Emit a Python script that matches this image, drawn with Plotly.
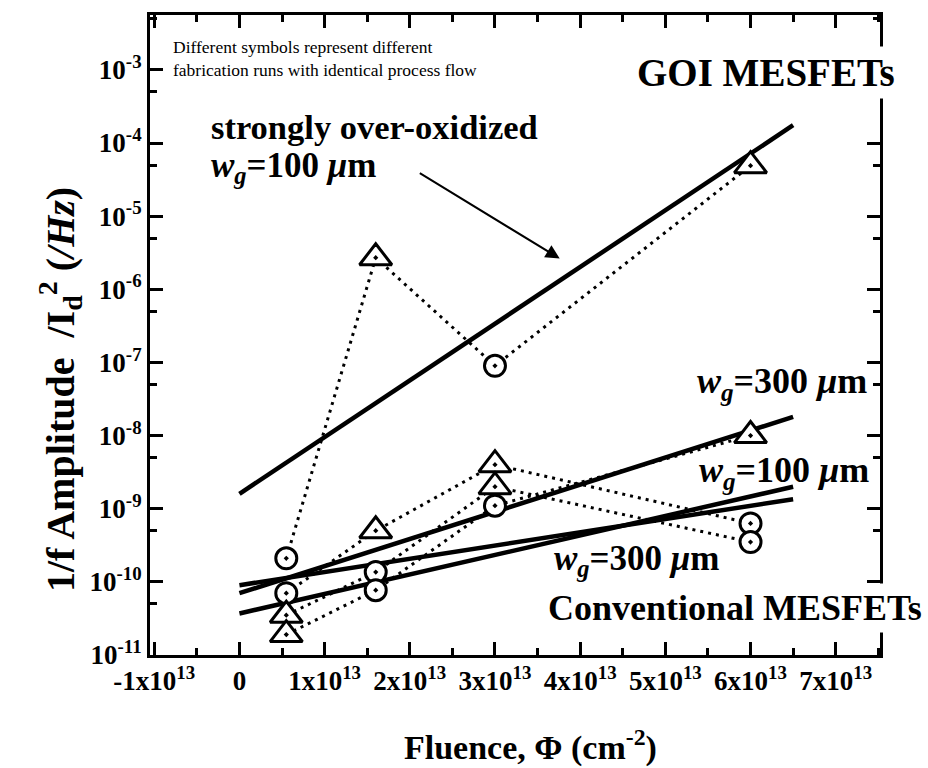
import plotly.graph_objects as go

# Fluence values of the irradiation steps (cm^-2)
fluence = [0.55e13, 1.6e13, 3.0e13, 6.0e13]

# 1/f amplitude normalised by Id^2 (/Hz) for each fabrication run
goi_run = [2.1e-10, 2.7e-6, 9.0e-8, 4.9e-5]
goi_symbols = ["circle", "triangle-up", "circle", "triangle-up"]

conv_run_a = [7.0e-11, 5.0e-10, 4.0e-9, 6.3e-10]
conv_symbols_a = ["circle", "triangle-up", "triangle-up", "circle"]

conv_run_b = [3.5e-11, 1.36e-10, 2.0e-9, 3.5e-10]
conv_symbols_b = ["triangle-up", "circle", "triangle-up", "circle"]

conv_run_c = [1.9e-11, 7.7e-11, 1.1e-9, 1.0e-8]
conv_symbols_c = ["triangle-up", "circle", "circle", "triangle-up"]

# Exponential fits (straight lines on the log axis)
fit_x = [0.0, 6.5e13]
fit_goi_100 = [1.6e-9, 1.75e-4]
fit_goi_300 = [7.0e-11, 1.8e-8]
fit_conv_100 = [3.7e-11, 2.0e-9]
fit_conv_300 = [9.0e-11, 1.35e-9]

# Axis ticks
x_ticks = [-1e13, 0, 1e13, 2e13, 3e13, 4e13, 5e13, 6e13, 7e13]
x_ticktext = ["-1x10<sup>13</sup>", "0", "1x10<sup>13</sup>", "2x10<sup>13</sup>",
              "3x10<sup>13</sup>", "4x10<sup>13</sup>", "5x10<sup>13</sup>",
              "6x10<sup>13</sup>", "7x10<sup>13</sup>"]
x_minor = [-0.5e13, 0.5e13, 1.5e13, 2.5e13, 3.5e13, 4.5e13, 5.5e13, 6.5e13, 7.5e13]
y_exponents = [-11, -10, -9, -8, -7, -6, -5, -4, -3]
y_ticks = [10.0 ** e for e in y_exponents]
y_ticktext = ["10<sup>%d</sup>" % e for e in y_exponents]
y_minor = [5 * 10.0 ** e for e in [-11, -10, -9, -8, -7, -6, -5, -4, -3]]

SERIF = "Liberation Serif, Times New Roman, serif"

fig = go.Figure()

runs = [(goi_run, goi_symbols), (conv_run_a, conv_symbols_a),
        (conv_run_b, conv_symbols_b), (conv_run_c, conv_symbols_c)]

# Dotted connections between successive measurements of one run
for y, sym in runs:
    fig.add_trace(go.Scatter(
        x=fluence, y=y, mode="lines",
        line=dict(color="black", width=3, dash="3px,5px"),
        showlegend=False, hoverinfo="skip",
    ))

# Exponential fit lines
for fy in [fit_goi_100, fit_goi_300, fit_conv_100, fit_conv_300]:
    fig.add_trace(go.Scatter(x=fit_x, y=fy, mode="lines",
                             line=dict(color="black", width=4.5),
                             showlegend=False, hoverinfo="skip"))

# Measurement symbols
for y, sym in runs:
    fig.add_trace(go.Scatter(
        x=fluence, y=y, mode="markers",
        marker=dict(symbol=[s + "-dot" for s in sym],
                    size=[21 if s == "circle" else 28 for s in sym],
                    color="white", opacity=1,
                    line=dict(color="black", width=3)),
        showlegend=False, hoverinfo="skip",
    ))

axis_common = dict(
    showline=True, linecolor="black", linewidth=3, mirror="ticks",
    ticks="inside", ticklen=13, tickwidth=3, tickcolor="black",
    showgrid=False, zeroline=False,
    tickfont=dict(family=SERIF, size=27, color="black"),
)

fig.update_xaxes(
    range=[-1.05e13, 7.52e13], tickmode="array", tickvals=x_ticks,
    ticktext=["<b>%s</b>" % t for t in x_ticktext],
    minor=dict(tickmode="array", tickvals=x_minor, ticks="inside",
               ticklen=7, tickwidth=3, tickcolor="black"),
    **axis_common,
)
fig.update_yaxes(
    type="log", range=[-11, -2.25], tickmode="array", tickvals=y_ticks,
    ticktext=["<b>%s</b>" % t for t in y_ticktext],
    minor=dict(tickmode="array", tickvals=y_minor, ticks="inside",
               ticklen=7, tickwidth=3, tickcolor="black"),
    **axis_common,
)

L, R, T, B = 150, 48, 15, 113
W, H = 928, 768
pw, ph = W - L - R, H - T - B


def px(xp):
    return (xp - L) / pw


def py(yp):
    return (H - B - yp) / ph


def label(text, xp, yp, size, xanchor="left", bg=None, yanchor="middle"):
    fig.add_annotation(
        text=text, x=px(xp), y=py(yp), xref="paper", yref="paper",
        xanchor=xanchor, yanchor=yanchor, align="left", showarrow=False,
        font=dict(family=SERIF, size=size, color="black"),
        bgcolor=bg, borderpad=4 if bg else 0,
    )


wg = "<b><i>w</i><sub><i>g</i></sub>=%d <i>\u03bc</i>m</b>"

label("Different symbols represent different<br>fabrication runs with identical process flow",
      172, 36, 17.5, yanchor="top")
label("<b>GOI MESFETs</b>", 900, 72, 39, xanchor="right", bg="white")
label("<b>Conventional MESFETs</b>", 927, 608, 36, xanchor="right", bg="white")
label("<b>strongly over-oxidized</b>", 210, 127, 34.5)
label(wg % 100, 210, 168, 35)
label(wg % 300, 696, 383, 36)
label(wg % 100, 698, 472, 36)
label(wg % 300, 553, 560, 35)

# Arrow pointing at the over-oxidized fit line
fig.add_annotation(
    x=3.76e13, y=-5.58, ax=2.1e13, ay=-4.40, xref="x", yref="y",
    axref="x", ayref="y", text="", showarrow=True,
    arrowhead=2, arrowsize=1.4, arrowwidth=2, arrowcolor="black",
)

# Axis titles
fig.add_annotation(
    text="<b>1/f Amplitude  /I<sub>d</sub><sup>2</sup> (<i>/Hz</i>)</b>",
    x=px(60), y=py(390), xref="paper", yref="paper", textangle=-90,
    xanchor="center", yanchor="middle",
    showarrow=False, font=dict(family=SERIF, size=40, color="black"),
)
fig.add_annotation(
    text="<b>Fluence, \u03a6 (cm<sup>-2</sup>)</b>",
    x=px(530), y=py(745), xref="paper", yref="paper",
    xanchor="center", yanchor="middle",
    showarrow=False, font=dict(family=SERIF, size=34, color="black"),
)

fig.update_layout(
    width=W, height=H, margin=dict(l=L, r=R, t=T, b=B),
    paper_bgcolor="white", plot_bgcolor="white", showlegend=False,
)

fig.write_html("out.html")
